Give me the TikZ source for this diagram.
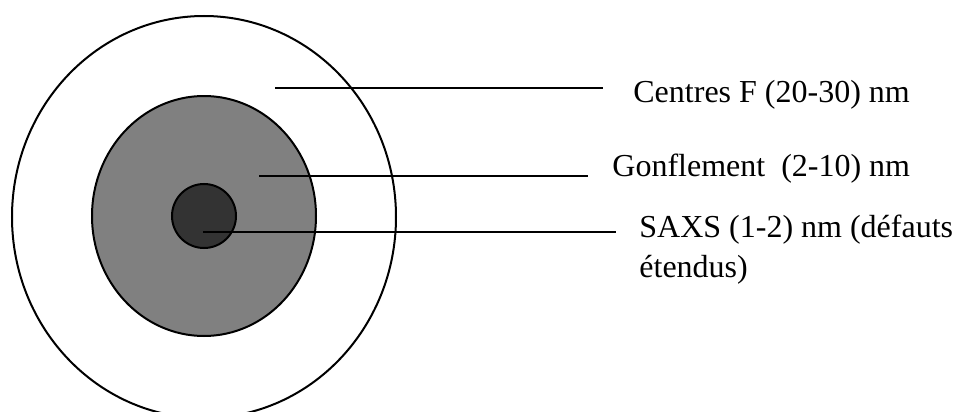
\documentclass[tikz,border=0pt]{standalone}
\usepackage{fontspec}
\setmainfont{Liberation Serif}
\definecolor{midgray}{HTML}{808080}
\definecolor{coregray}{HTML}{333333}
\begin{document}
\begin{tikzpicture}[x=0.5pt,y=-0.5pt,
  ring/.style={draw=black,line width=1pt},
  leader/.style={draw=black,line width=1pt},
  lbl/.style={anchor=base west,inner sep=0pt,font=\fontsize{16}{20}\selectfont}]
\useasboundingbox (0,0) rectangle (955,412);
\clip (0,0) rectangle (955,412);
% rings
\draw[ring] (204,217) ellipse [x radius=96pt, y radius=100.5pt];
\draw[ring,fill=midgray] (204,216) ellipse [x radius=56pt, y radius=60pt];
\draw[ring,fill=coregray] (204,216) ellipse [x radius=16pt, y radius=16pt];
% labels
\node[lbl] (centres) at (633,103) {Centres F (20-30) nm};
\node[lbl] (gonf) at (612,176) {Gonflement\ \ (2-10) nm};
\node[lbl] (saxs) at (639,237) {SAXS (1-2) nm (défauts};
\node[lbl] (saxs2) at (639,277) {étendus)};
% leader end points
\coordinate (c1) at (275,88);
\coordinate (c1e) at (603,88);
\coordinate (c2) at (259,176);
\coordinate (c2e) at (588,176);
\coordinate (c3) at (203,232);
\coordinate (c3e) at (616,232);
\draw[leader] (c1) -- (c1e);
\draw[leader] (c2) -- (c2e);
\draw[leader] (c3) -- (c3e);
\end{tikzpicture}
\end{document}
